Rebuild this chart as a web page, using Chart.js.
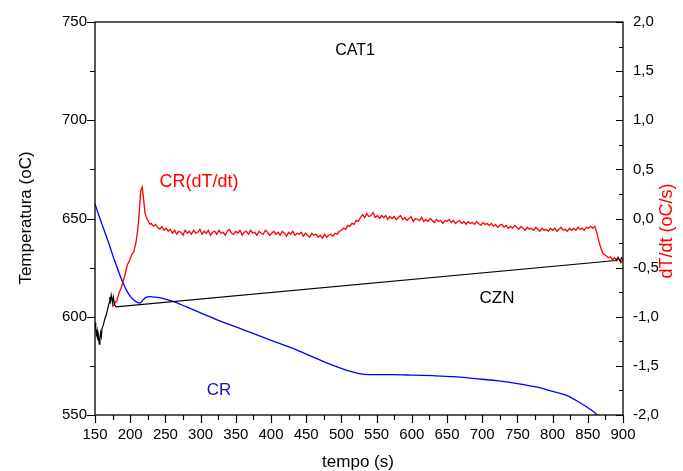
<!DOCTYPE html>
<html>
<head>
<title>CAT1</title>
<script src="https://cdn.jsdelivr.net/npm/chart.js@4.4.1/dist/chart.umd.min.js"></script>
<style>
  body { margin: 0; background: #fff; }
</style>
</head>
<body>
<canvas id="cat1Chart" width="683" height="471"></canvas>
<script>
// ---------------- data ----------------
// CR: temperature (left axis)
const crTime = [150, 155, 160, 165, 170, 175, 180, 185, 190, 195, 200, 205, 210, 214, 218, 222, 228, 235, 245, 255, 265, 280, 300, 330, 360, 400, 430, 460, 490, 510, 525, 540, 570, 600, 630, 660, 690, 720, 750, 780, 800, 820, 840, 855, 870];
const crTemp = [657.5, 652, 647, 642, 637, 631.5, 626.5, 621.5, 617, 613.3, 610.5, 608.5, 607.3, 607, 608.5, 609.7, 610.2, 610, 609.5, 608.5, 607.3, 605, 602, 597.5, 593.5, 588, 584, 579.5, 575, 572.5, 571, 570.5, 570.5, 570.3, 570, 569.5, 568.5, 567.5, 566, 564, 562, 560, 556, 552.5, 548];

// CZN: temperature (left axis), noisy start then straight line
const cznTime = [150, 151, 152, 153, 154, 155, 156, 157, 158, 159, 160, 162, 164, 166, 168, 170, 171, 172, 173, 175, 176, 178, 180, 890, 893, 896, 898, 900];
const cznTemp = [597, 594, 591, 593, 588, 590, 586, 589, 592, 590, 594, 596, 599, 601, 604, 607, 610, 608, 611, 607, 610, 606, 605, 628.6, 630.3, 628.2, 630, 629];

// CR(dT/dt): right axis
const rateTime = [175, 178, 181, 184, 187, 190, 193, 196, 199, 202, 205, 208, 211, 213, 215, 217, 219, 221, 223, 226, 228,
  230, 233, 236, 239, 242, 245, 248, 251, 254, 257,
  260, 263, 266, 269, 272, 275, 278, 281, 284, 287,
  290, 293, 296, 299, 302, 305, 308, 311, 314, 317,
  320, 323, 326, 329, 332, 335, 338, 341, 344, 347,
  350, 353, 356, 359, 362, 365, 368, 371, 374, 377,
  380, 383, 386, 389, 392, 395, 398, 401, 404, 407,
  410, 413, 416, 419, 422, 425, 428, 431, 434, 437,
  440, 443, 446, 449, 452, 455, 458, 461, 464, 467,
  470, 473, 476, 479, 482, 485, 488, 491, 494, 497,
  500, 503, 506, 509, 512, 515, 518, 521, 524, 527,
  530, 533, 536, 539, 542, 545, 548, 551, 554, 557,
  560, 563, 566, 569, 572, 575, 578, 581, 584, 587,
  590, 593, 596, 599, 602, 605, 608, 611, 614, 617,
  620, 623, 626, 629, 632, 635, 638, 641, 644, 647,
  650, 653, 656, 659, 662, 665, 668, 671, 674, 677,
  680, 683, 686, 689, 692, 695, 698, 701, 704, 707,
  710, 713, 716, 719, 722, 725, 728, 731, 734, 737,
  740, 743, 746, 749, 752, 755, 758, 761, 764, 767,
  770, 773, 776, 779, 782, 785, 788, 791, 794, 797,
  800, 803, 806, 809, 812, 815, 818, 821, 824, 827,
  830, 833, 836, 839, 842, 845, 848, 851, 854, 857,
  860, 863, 866, 869, 872, 876, 879, 882, 885, 888, 891, 894, 897, 900];
const rateValue = [-0.90, -0.86, -0.84, -0.76, -0.71, -0.64, -0.56, -0.47, -0.43, -0.37, -0.34, -0.25, -0.10, 0.08, 0.28, 0.32, 0.20, 0.06, 0.01, -0.03, -0.06,
  -0.05, -0.08, -0.06, -0.09, -0.11, -0.08, -0.12, -0.10, -0.13, -0.11,
  -0.15, -0.12, -0.16, -0.13, -0.14, -0.17, -0.12, -0.15, -0.13, -0.16,
  -0.12, -0.15, -0.14, -0.11, -0.16, -0.13, -0.15, -0.12, -0.17, -0.14,
  -0.13, -0.16, -0.12, -0.15, -0.14, -0.17, -0.13, -0.11, -0.15, -0.16,
  -0.13, -0.15, -0.12, -0.17, -0.14, -0.13, -0.16, -0.12, -0.15, -0.14,
  -0.17, -0.13, -0.15, -0.16, -0.12, -0.14, -0.17, -0.15, -0.13, -0.16,
  -0.14, -0.17, -0.13, -0.15, -0.18, -0.14, -0.16, -0.13, -0.17, -0.15,
  -0.16, -0.14, -0.18, -0.15, -0.17, -0.19, -0.15, -0.17, -0.16, -0.19,
  -0.17, -0.20, -0.16, -0.19, -0.17, -0.16, -0.18, -0.15, -0.16, -0.13,
  -0.12, -0.10, -0.11, -0.07, -0.08, -0.05, -0.06, -0.02, -0.03, 0.01,
  0.04, 0.01, 0.05, 0.02, 0.03, 0.06, 0.01, 0.03, 0.00, 0.03,
  0.01, 0.03, -0.01, 0.02, 0.00, 0.02, -0.01, 0.01, 0.03, -0.01,
  0.01, -0.02, 0.00, 0.02, -0.03, 0.00, -0.01, -0.02, 0.01, -0.03,
  -0.01, -0.03, 0.00, -0.02, -0.04, -0.01, -0.03, -0.02, -0.05, -0.02,
  -0.03, -0.01, -0.04, -0.02, -0.05, -0.03, -0.02, -0.05, -0.03, -0.06,
  -0.03, -0.05, -0.04, -0.06, -0.03, -0.05, -0.07, -0.04, -0.06, -0.05,
  -0.07, -0.05, -0.08, -0.06, -0.09, -0.07, -0.06, -0.09, -0.07, -0.10,
  -0.08, -0.10, -0.07, -0.09, -0.11, -0.08, -0.10, -0.12, -0.09, -0.11,
  -0.10, -0.12, -0.09, -0.11, -0.13, -0.10, -0.12, -0.11, -0.13, -0.10,
  -0.12, -0.10, -0.13, -0.11, -0.09, -0.12, -0.11, -0.13, -0.10, -0.12,
  -0.10, -0.12, -0.09, -0.11, -0.10, -0.12, -0.09, -0.10, -0.08, -0.10,
  -0.08, -0.15, -0.24, -0.31, -0.36, -0.38, -0.40, -0.39, -0.42, -0.40, -0.43, -0.41, -0.45, -0.42];

// axis ranges
const xMin = 150, xMax = 900, xStep = 50;
const tMin = 550, tMax = 750, tStep = 50;
const rMin = -2, rMax = 2, rStep = 0.5;

const FONT = "'Liberation Sans', Arial, sans-serif";

function pairs(xs, ys) {
  return xs.map((x, i) => ({ x: x, y: ys[i] }));
}

// frame, tick marks and text labels
const decorPlugin = {
  id: 'decor',
  afterDraw(chart) {
    const ctx = chart.ctx;
    const a = chart.chartArea;
    const sx = chart.scales.x, sy = chart.scales.y, sr = chart.scales.y2;
    ctx.save();
    ctx.strokeStyle = '#000';
    ctx.lineWidth = 1.3;
    ctx.strokeRect(a.left, a.top, a.right - a.left, a.bottom - a.top);

    ctx.lineWidth = 1.2;
    ctx.beginPath();
    // x ticks (outward, below)
    for (let v = xMin; v <= xMax; v += xStep / 2) {
      const px = Math.round(sx.getPixelForValue(v)) + 0.5;
      const len = (v % xStep === 0) ? 8 : 5;
      ctx.moveTo(px, a.bottom);
      ctx.lineTo(px, a.bottom + len);
    }
    // left ticks (outward)
    for (let v = tMin; v <= tMax; v += tStep / 2) {
      const py = Math.round(sy.getPixelForValue(v)) + 0.5;
      const len = (v % tStep === 0) ? 8 : 5;
      ctx.moveTo(a.left, py);
      ctx.lineTo(a.left - len, py);
    }
    // right ticks (inward)
    for (let k = 0; k <= 16; k++) {
      const v = rMin + k * rStep / 2;
      const py = Math.round(sr.getPixelForValue(v)) + 0.5;
      const len = (k % 2 === 0) ? 7 : 4;
      ctx.moveTo(a.right, py);
      ctx.lineTo(a.right - len, py);
    }
    ctx.stroke();

    ctx.textAlign = 'center';
    ctx.textBaseline = 'middle';
    ctx.fillStyle = '#000';
    ctx.font = '17px ' + FONT;
    ctx.fillText('tempo (s)', 358, 462);
    ctx.fillText('CZN', 497, 298);
    ctx.font = '16px ' + FONT;
    ctx.fillText('CAT1', 355, 51);
    ctx.font = '18px ' + FONT;
    ctx.fillStyle = '#ff0000';
    ctx.fillText('CR(dT/dt)', 199, 182);
    ctx.font = '17px ' + FONT;
    ctx.fillStyle = '#1010c0';
    ctx.fillText('CR', 219, 390);

    ctx.fillStyle = '#000';
    ctx.translate(26, 218);
    ctx.rotate(-Math.PI / 2);
    ctx.fillText('Temperatura (oC)', 0, 0);
    ctx.restore();

    ctx.save();
    ctx.font = '18px ' + FONT;
    ctx.textAlign = 'center';
    ctx.textBaseline = 'middle';
    ctx.fillStyle = '#ff0000';
    ctx.translate(667, 231);
    ctx.rotate(-Math.PI / 2);
    ctx.fillText('dT/dt (oC/s)', 0, 0);
    ctx.restore();
  }
};

new Chart(document.getElementById('cat1Chart').getContext('2d'), {
  type: 'line',
  data: {
    datasets: [
      {
        label: 'CZN',
        data: pairs(cznTime, cznTemp),
        yAxisID: 'y',
        borderColor: '#000000',
        borderWidth: 1.2,
        pointRadius: 0,
        tension: 0
      },
      {
        label: 'CR(dT/dt)',
        data: pairs(rateTime, rateValue),
        yAxisID: 'y2',
        borderColor: '#ff0000',
        borderWidth: 1.3,
        pointRadius: 0,
        tension: 0
      },
      {
        label: 'CR',
        data: pairs(crTime, crTemp),
        yAxisID: 'y',
        borderColor: '#0000ff',
        borderWidth: 1.3,
        pointRadius: 0,
        cubicInterpolationMode: 'monotone'
      }
    ]
  },
  options: {
    responsive: false,
    animation: false,
    devicePixelRatio: 1,
    layout: { padding: { top: 22, left: 0, right: 0, bottom: 0 } },
    plugins: {
      legend: { display: false },
      tooltip: { enabled: false }
    },
    scales: {
      x: {
        type: 'linear',
        position: 'bottom',
        min: xMin,
        max: xMax,
        afterFit: s => { s.height = 56; },
        grid: { display: false, drawTicks: false },
        border: { display: false },
        ticks: { stepSize: xStep, color: '#000', font: { size: 15, family: FONT }, padding: 11, maxRotation: 0, autoSkip: false }
      },
      y: {
        type: 'linear',
        position: 'left',
        min: tMin,
        max: tMax,
        afterFit: s => { s.width = 95; },
        grid: { display: false, drawTicks: false },
        border: { display: false },
        ticks: { stepSize: tStep, color: '#000', font: { size: 15, family: FONT }, padding: 8 }
      },
      y2: {
        type: 'linear',
        position: 'right',
        min: rMin,
        max: rMax,
        afterFit: s => { s.width = 60; },
        grid: { display: false, drawTicks: false },
        border: { display: false },
        ticks: {
          stepSize: rStep,
          color: '#000',
          font: { size: 15, family: FONT },
          padding: 10,
          callback: v => v.toFixed(1).replace('.', ',')
        }
      }
    }
  },
  plugins: [decorPlugin]
});
</script>
</body>
</html>
